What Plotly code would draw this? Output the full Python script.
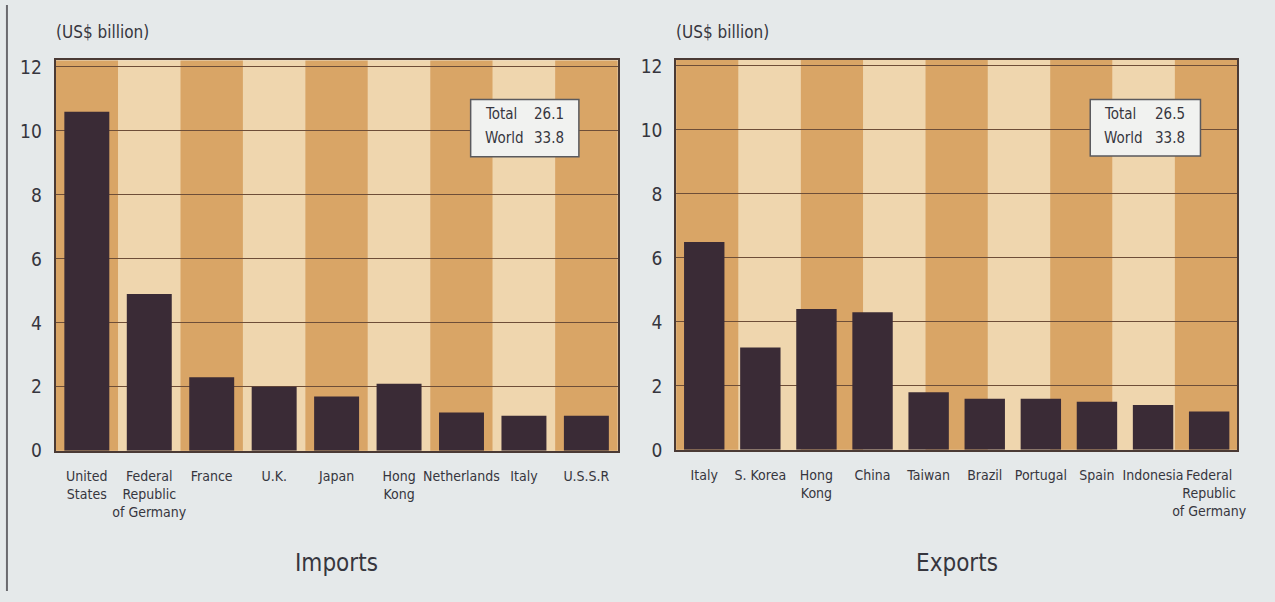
import plotly.graph_objects as go

W, H = 1275, 602

# Leading trade partners, US$ billion
imports_countries = ["United<br>States", "Federal<br>Republic<br>of Germany", "France", "U.K.",
                     "Japan", "Hong<br>Kong", "Netherlands", "Italy", "U.S.S.R"]
imports_values = [10.6, 4.9, 2.3, 2.0, 1.7, 2.1, 1.2, 1.1, 1.1]

exports_countries = ["Italy", "S. Korea", "Hong<br>Kong", "China", "Taiwan", "Brazil",
                     "Portugal", "Spain", "Indonesia", "Federal<br>Republic<br>of Germany"]
exports_values = [6.5, 3.2, 4.4, 4.3, 1.8, 1.6, 1.6, 1.5, 1.4, 1.2]

y_ticks = [0, 2, 4, 6, 8, 10, 12]
unit_label = "(US$ billion)"
imports_summary = [("Total", "26.1"), ("World", "33.8")]
exports_summary = [("Total", "26.5"), ("World", "33.8")]
panel_titles = ["Imports", "Exports"]

FONT = "Liberation Sans Narrow, DejaVu Sans Condensed, Arial Narrow, sans-serif"
TEXT = "#36363e"
BAR = "#3a2b36"
BAND_DARK = "#d9a566"
BAND_LIGHT = "#efd6ae"
PAGE = "#e5e9ea"
GRID = "#6e4e38"
FRAME = "#4a3a35"


def px(x):
    return x / W


def py(y):
    return 1 - y / H


# panel geometry in pixels: (left, right, top, bottom)
panels = [(56, 622, 57, 458), (681, 1246, 56, 457)]

fig = go.Figure()
fig.add_trace(go.Bar(x=imports_countries, y=imports_values, xaxis="x", yaxis="y",
                     marker=dict(color=BAR, line=dict(width=0)), width=0.72,
                     hoverinfo="x+y"))
fig.add_trace(go.Bar(x=exports_countries, y=exports_values, xaxis="x2", yaxis="y2",
                     marker=dict(color=BAR, line=dict(width=0)), width=0.72,
                     hoverinfo="x+y"))

axis_common = dict(showline=True, mirror=True, linecolor=FRAME, linewidth=2,
                   tickfont=dict(family=FONT, size=14, color=TEXT), ticks="",
                   tickangle=0, showgrid=False, zeroline=False, fixedrange=True)
yaxis_common = dict(showline=True, mirror=True, linecolor=FRAME, linewidth=2,
                    range=[0, 12.2], tickvals=y_ticks, ticks="",
                    tickfont=dict(family=FONT, size=19, color=TEXT),
                    showgrid=True, gridcolor=GRID, gridwidth=1, zeroline=False,
                    ticklabelstandoff=8, fixedrange=True)

layouts = {}
for i, (l, r, t, b) in enumerate(panels):
    sfx = "" if i == 0 else str(i + 1)
    layouts["xaxis" + sfx] = dict(axis_common, domain=[px(l), px(r)], anchor="y" + sfx,
                                  ticklabelstandoff=11)
    layouts["yaxis" + sfx] = dict(yaxis_common, domain=[py(b), py(t)], anchor="x" + sfx)

shapes = []
annotations = []
n_bands = 9
for i, (l, r, t, b) in enumerate(panels):
    sfx = "" if i == 0 else str(i + 1)
    # alternating vertical stripes behind the bars
    for k in range(n_bands):
        shapes.append(dict(type="rect", xref="x%s domain" % sfx, yref="y%s domain" % sfx,
                           x0=k / n_bands, x1=(k + 1) / n_bands, y0=0, y1=1,
                           fillcolor=BAND_DARK if k % 2 == 0 else BAND_LIGHT,
                           line=dict(width=0), layer="below"))
    # unit label above the axis
    annotations.append(dict(text=unit_label, xref="paper", yref="paper",
                            x=px(l - 2), y=py(28), xanchor="left", yanchor="middle",
                            showarrow=False, font=dict(family=FONT, size=17, color=TEXT)))
    # panel title
    annotations.append(dict(text=panel_titles[i], xref="paper", yref="paper",
                            x=px((l + r) / 2), y=py(573), xanchor="center", yanchor="middle",
                            showarrow=False, font=dict(family=FONT, size=24, color=TEXT)))

# summary boxes: frame, label column (left edge), value column (right edge)
boxes = [((474, 583, 97, 156), (486, 570), imports_summary),
         ((1098, 1209, 97, 155), (1110, 1195), exports_summary)]
for (bl, br, bt, bb), (c1, c2), rows in boxes:
    shapes.append(dict(type="rect", xref="paper", yref="paper",
                       x0=px(bl), x1=px(br), y0=py(bb), y1=py(bt),
                       fillcolor="#f1f2f0", line=dict(color="#5a5a5e", width=1.5),
                       layer="above"))
    for j, (name, val) in enumerate(rows):
        yy = py(112 + 25 * j)
        annotations.append(dict(text=name, xref="paper", yref="paper", x=px(c1), y=yy,
                                xanchor="left", yanchor="middle", showarrow=False,
                                font=dict(family=FONT, size=15, color=TEXT)))
        annotations.append(dict(text=val, xref="paper", yref="paper", x=px(c2), y=yy,
                                xanchor="right", yanchor="middle", showarrow=False,
                                font=dict(family=FONT, size=15, color=TEXT)))

# page frame on the left edge
shapes.append(dict(type="line", xref="paper", yref="paper", x0=px(7), x1=px(7), y0=0, y1=1,
                   line=dict(color="#6a6a6e", width=2)))

fig.update_layout(width=W, height=H, margin=dict(l=0, r=0, t=0, b=0),
                  paper_bgcolor=PAGE, plot_bgcolor=BAND_LIGHT, showlegend=False,
                  bargap=0.28, shapes=shapes, annotations=annotations, **layouts)

fig.write_html("out.html")
